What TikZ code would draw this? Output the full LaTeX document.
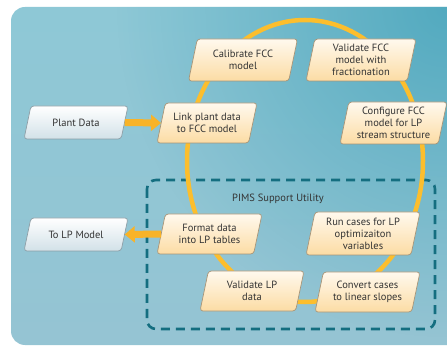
\documentclass[tikz,border=0pt]{standalone}
\usepackage{fontspec}
\setmainfont{PT Sans}
\usetikzlibrary{arrows.meta,fadings}
\definecolor{bgtop}{HTML}{8EC8D6}
\definecolor{bgmid}{HTML}{D5E9EF}
\definecolor{bgbot}{HTML}{95C4D3}
\definecolor{bgteal}{HTML}{3FA0B8}
\definecolor{boxtop}{HTML}{FFF9EE}
\definecolor{boxbot}{HTML}{FCDCA4}
\definecolor{boxborder}{HTML}{A89578}
\definecolor{gbot}{HTML}{D2E1E8}
\definecolor{gborder}{HTML}{8D9EA6}
\definecolor{ringcol}{HTML}{FCBE2D}
\definecolor{arrcol}{HTML}{F8B328}
\definecolor{dashcol}{HTML}{146E80}
\definecolor{txt}{HTML}{333333}
\tikzfading[name=tealfade, inner color=transparent!25, outer color=transparent!100]
\newcommand\pgram[7]{% style, name, x, y, w, h, text
  \pgfmathsetmacro\pgsl{#6*0.21}
  \path[#1] ({#3-#5/2},{#4+#6/2}) -- ({#3-#5/2+\pgsl},{#4-#6/2})
    -- ({#3+#5/2},{#4-#6/2}) -- ({#3+#5/2-\pgsl},{#4+#6/2}) -- cycle;
  \node[ptext, minimum width={#5-\pgsl}, minimum height=#6] (#2) at (#3,#4) {#7};}
\begin{document}
\begin{tikzpicture}[x=1pt,y=-1pt,
  pbox/.style={draw=boxborder, line width=0.7pt, rounded corners=3pt,
    top color=boxtop, bottom color=boxbot},
  gbox/.style={draw=gborder, line width=0.7pt, rounded corners=3pt,
    top color=white, bottom color=gbot},
  ptext/.style={align=center, inner sep=0pt, text=txt,
    font=\fontsize{10.5}{12}\selectfont},
  flow/.style={draw=arrcol, line width=7pt, -{Triangle[width=16pt,length=10pt]}},
  ring/.style={draw=ringcol, line width=4.5pt},
  util/.style={draw=dashcol, line width=2.6pt, dash pattern=on 9pt off 6pt, rounded corners=9pt}]
\useasboundingbox (0,0) rectangle (447,347);
% background panel
\path[rounded corners=14pt, top color=bgtop, middle color=bgmid, bottom color=bgbot]
  (11,7) rectangle (480,345);
\begin{scope}
  \clip[rounded corners=14pt] (11,7) rectangle (480,345);
  \fill[bgteal, path fading=tealfade] (447,7) circle (330);
\end{scope}
% PIMS utility frame
\draw[util] (147,180) rectangle (435,329);
\node[ptext] (pims) at (278,199) {PIMS Support Utility};
% ring
\draw[ring] (305,161) ellipse [x radius=118, y radius=141];
% nodes
\pgram{gbox}{plant}{76}{122.5}{104}{33}{Plant Data}
\pgram{pbox}{link}{207}{123}{100}{40}{Link plant data\\to FCC model}
\pgram{pbox}{cal}{243}{60}{109}{42}{Calibrate FCC\\model}
\pgram{pbox}{valf}{361}{60}{110}{42}{Validate FCC\\model with\\fractionation}
\pgram{pbox}{conf}{393.5}{123}{107}{42}{Configure FCC\\model for LP\\stream structure}
\pgram{pbox}{run}{363}{233.5}{114}{43}{Run cases for LP\\optimizaiton\\variables}
\pgram{pbox}{conv}{367.5}{292}{105}{40}{Convert cases\\to linear slopes}
\pgram{pbox}{vlp}{252}{291}{104}{40}{Validate LP\\data}
\pgram{pbox}{fmt}{209.5}{234}{105}{40}{Format data\\into LP tables}
\pgram{gbox}{tolp}{76}{234.5}{104}{33}{To LP Model}
% flows
\draw[flow] (plant.east) -- (link.west);
\draw[flow] (fmt.west) -- (tolp.east);
\end{tikzpicture}
\end{document}
